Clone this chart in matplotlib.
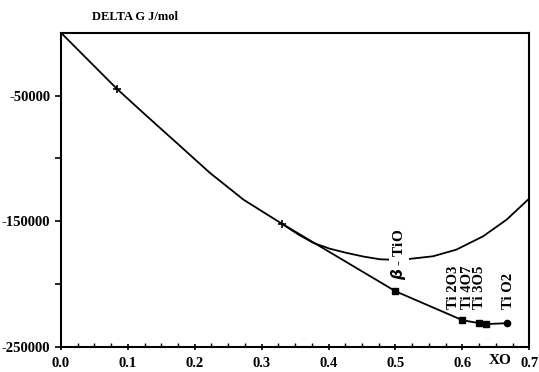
import numpy as np
import matplotlib.pyplot as plt
from matplotlib.ticker import MultipleLocator, FixedLocator, FixedFormatter

plt.rcParams['font.family'] = ['Liberation Serif', 'DejaVu Serif']
plt.rcParams['font.weight'] = 'bold'

# stable line (alpha solution + compounds)
hull_x = [0.0, 0.0839, 0.1236, 0.1734, 0.223, 0.273, 0.305, 0.330]
hull_y = [0, -44700, -64000, -87800, -111600, -132800, -143500, -151800]

# compounds on the hull
comp_x = [0.330, 0.5, 0.6, 0.625, 0.636, 0.667]
comp_y = [-151800, -205600, -228600, -231000, -231700, -231000]

# beta-TiO curve
beta_x = [0.330, 0.355, 0.377, 0.402, 0.427, 0.452, 0.477, 0.507, 0.556, 0.591, 0.631, 0.666, 0.698]
beta_y = [-151800, -160500, -167100, -171800, -175100, -178000, -180200, -180700, -177800, -172500, -161900, -148700, -132800]

labels = ['Ti 2O3', 'Ti 4O7', 'Ti 3O5', 'Ti O2']
label_x = [0.587, 0.608, 0.626, 0.669]

fig = plt.figure(figsize=(5.39, 3.72), dpi=100)
ax = fig.add_axes([0.113, 0.067, 0.869, 0.845])

ax.plot(beta_x, beta_y, color='black', lw=1.3, zorder=2)
ax.plot(hull_x, hull_y, color='black', lw=1.3, zorder=3)
ax.plot(comp_x, comp_y, color='black', lw=1.3, zorder=3)
ax.plot(hull_x[1], hull_y[1], marker='+', ms=6, mew=1.2, color='black', zorder=4)
ax.plot(comp_x[0], comp_y[0], marker='+', ms=6, mew=1.2, color='black', zorder=4)
ax.plot(comp_x[1:5], comp_y[1:5], 's', ms=4, color='black', zorder=4)
ax.plot(comp_x[5], comp_y[5], 'o', ms=4.5, color='black', zorder=4)

ax.text(0.505, -176000, r'$\beta$ - TiO', rotation=90, ha='center', va='center',
        fontsize=11, bbox=dict(facecolor='white', edgecolor='none', pad=0.5), zorder=5)
for lx, lab in zip(label_x, labels):
    ax.text(lx, -220000, lab, rotation=90, ha='center', va='bottom', fontsize=10.5)

ax.set_xlim(0, 0.7)
ax.set_ylim(-250000, 0)
ax.xaxis.set_minor_locator(MultipleLocator(0.025))
ax.set_xticks(np.arange(0, 0.71, 0.1))
ax.set_xticklabels([f'{v:.1f}' for v in np.arange(0, 0.71, 0.1)])
ax.yaxis.set_major_locator(FixedLocator([-250000, -150000, -50000]))
ax.yaxis.set_major_formatter(FixedFormatter(['-250000', '-150000', '-50000']))
ax.yaxis.set_minor_locator(FixedLocator([-200000, -100000]))
ax.tick_params(axis='x', which='major', direction='inout', length=5, width=1.2,
               labelsize=10.5, pad=5)
ax.tick_params(axis='x', which='minor', direction='in', length=3, width=1)
ax.tick_params(axis='y', which='both', direction='out', length=4, width=1.2, labelsize=10.5)
for s in ax.spines.values():
    s.set_linewidth(1.5)

ax.text(0.656, -261000, 'XO', ha='center', va='center', fontsize=11, clip_on=False)
fig.text(0.25, 0.955, 'DELTA G J/mol', ha='center', va='center', fontsize=9)

fig.savefig('out.png', dpi=100)
